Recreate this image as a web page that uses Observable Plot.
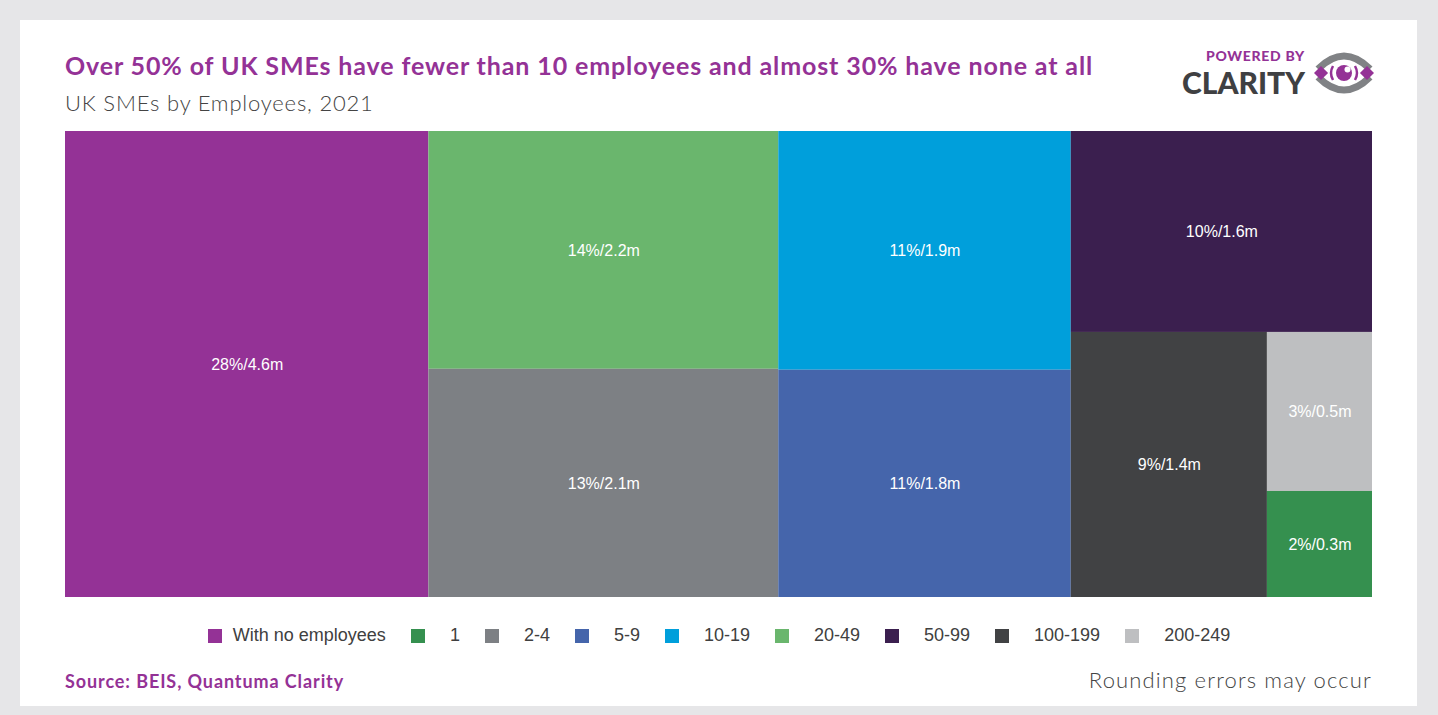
<!DOCTYPE html>
<html>
<head>
<meta charset="utf-8">
<script src="https://cdn.jsdelivr.net/npm/d3@7"></script>
<script src="https://cdn.jsdelivr.net/npm/@observablehq/plot@0.6"></script>
<style>
  html, body { margin: 0; padding: 0; }
  body { width: 1438px; height: 715px; background: #e6e6e8; position: relative; overflow: hidden; font-family: Lato, "Open Sans", sans-serif; }
  #panel { position: absolute; left: 20px; top: 20px; width: 1397px; height: 686px; background: #fff; }
  .abs { position: absolute; white-space: nowrap; }
  #title { left: 65px; top: 50px; font-size: 25px; font-weight: 700; color: #943296; letter-spacing: 0.88px; }
  #subtitle { left: 65px; top: 89px; font-size: 22px; font-weight: 300; color: #444; letter-spacing: 0.8px; }
  #chart { left: 65px; top: 131px; }
  #legend { left: 0; top: 625px; width: 1438px; display: flex; justify-content: center; align-items: center; font-family: "Liberation Sans", Arial, sans-serif; font-size: 18px; color: #404040; }
  .item { display: flex; align-items: center; margin: 0 12.5px; }
  .sw { width: 14px; height: 14px; margin-right: 25px; }
  .item:first-child .sw { margin-right: 11px; }
  #source { left: 65px; top: 670px; font-size: 18px; font-weight: 700; color: #943296; letter-spacing: 0.9px; }
  #note { right: 66px; top: 666px; font-size: 22px; font-weight: 300; color: #444; letter-spacing: 1.15px; }
  #powered { left: 1206px; top: 48.6px; font-size: 14px; line-height: 1; font-weight: 900; color: #943296; letter-spacing: 0.7px; }
  #clarity { left: 1182px; top: 67.4px; font-size: 30px; line-height: 1; font-weight: 900; color: #3f4042; letter-spacing: 0px; }
  #eye { left: 1314px; top: 51px; }
</style>
</head>
<body>
<div id="panel"></div>
<div id="title" class="abs">Over 50% of UK SMEs have fewer than 10 employees and almost 30% have none at all</div>
<div id="subtitle" class="abs">UK SMEs by Employees, 2021</div>
<div id="powered" class="abs">POWERED BY</div>
<div id="clarity" class="abs">CLARITY</div>
<svg id="eye" class="abs" width="60" height="46" viewBox="0 0 60 46">
  <path d="M4 18 Q30 -8 56 18" fill="none" stroke="#808285" stroke-width="7"/>
  <path d="M4 26 Q30 52 56 26" fill="none" stroke="#808285" stroke-width="7"/>
  <rect x="-5" y="-5" width="10" height="10" fill="#943296" transform="translate(7 22) rotate(45)"/>
  <rect x="-5" y="-5" width="10" height="10" fill="#943296" transform="translate(53 22) rotate(45)"/>
  <path d="M19 15 Q15 22 19 29" fill="none" stroke="#943296" stroke-width="2.5"/>
  <path d="M41 15 Q45 22 41 29" fill="none" stroke="#943296" stroke-width="2.5"/>
  <circle cx="30" cy="22" r="8" fill="#943296"/>
  <circle cx="33.5" cy="18.5" r="3" fill="#fff"/>
</svg>
<div id="chart" class="abs"></div>
<div id="legend" class="abs"></div>
<div id="source" class="abs">Source: BEIS, Quantuma Clarity</div>
<div id="note" class="abs">Rounding errors may occur</div>
<script>
// Employee-size bands (legend order)
const categories = ["With no employees", "1", "2-4", "5-9", "10-19", "20-49", "50-99", "100-199", "200-249"];
const colors = ["#943296", "#35904f", "#7d8084", "#4565ab", "#009fdb", "#6ab66d", "#3b1f4f", "#414244", "#bebfc1"];
// Number of SMEs, millions (estimated from tile areas), per category
const businesses = [4.56, 0.30, 2.15, 1.79, 1.88, 2.24, 1.63, 1.40, 0.45];
// Tile labels as printed
const labels = ["28%/4.6m", "2%/0.3m", "13%/2.1m", "11%/1.8m", "11%/1.9m", "14%/2.2m", "10%/1.6m", "9%/1.4m", "3%/0.5m"];

const W = 1307, H = 466;
const root = d3.hierarchy({children: categories.map((c, i) => ({category: c, value: businesses[i], label: labels[i]}))})
  .sum(d => d.value || 0)
  .sort((a, b) => b.value - a.value);
d3.treemap().tile(d3.treemapSquarify.ratio(1)).size([W, H]).round(false)(root);
const tiles = root.leaves().map(l => ({
  category: l.data.category, label: l.data.label,
  x0: l.x0, x1: l.x1, y0: l.y0, y1: l.y1,
  cx: (l.x0 + l.x1) / 2, cy: (l.y0 + l.y1) / 2
}));

const chart = Plot.plot({
  width: W, height: H, margin: 0,
  x: {domain: [0, W], range: [0, W], axis: null},
  y: {domain: [0, H], range: [0, H], axis: null},
  color: {domain: categories, range: colors, type: "ordinal"},
  style: {background: "transparent", overflow: "visible"},
  marks: [
    Plot.rect(tiles, {x1: "x0", x2: "x1", y1: "y0", y2: "y1", fill: "category"}),
    Plot.text(tiles, {x: "cx", y: "cy", text: "label", fill: "#fff", fontSize: 16, fontFamily: "Liberation Sans, Arial, sans-serif"})
  ]
});
document.getElementById("chart").appendChild(chart);

const legend = d3.select("#legend");
categories.forEach((c, i) => {
  const it = legend.append("div").attr("class", "item");
  it.append("div").attr("class", "sw").style("background", colors[i]);
  it.append("span").text(c);
});
</script>
</body>
</html>
